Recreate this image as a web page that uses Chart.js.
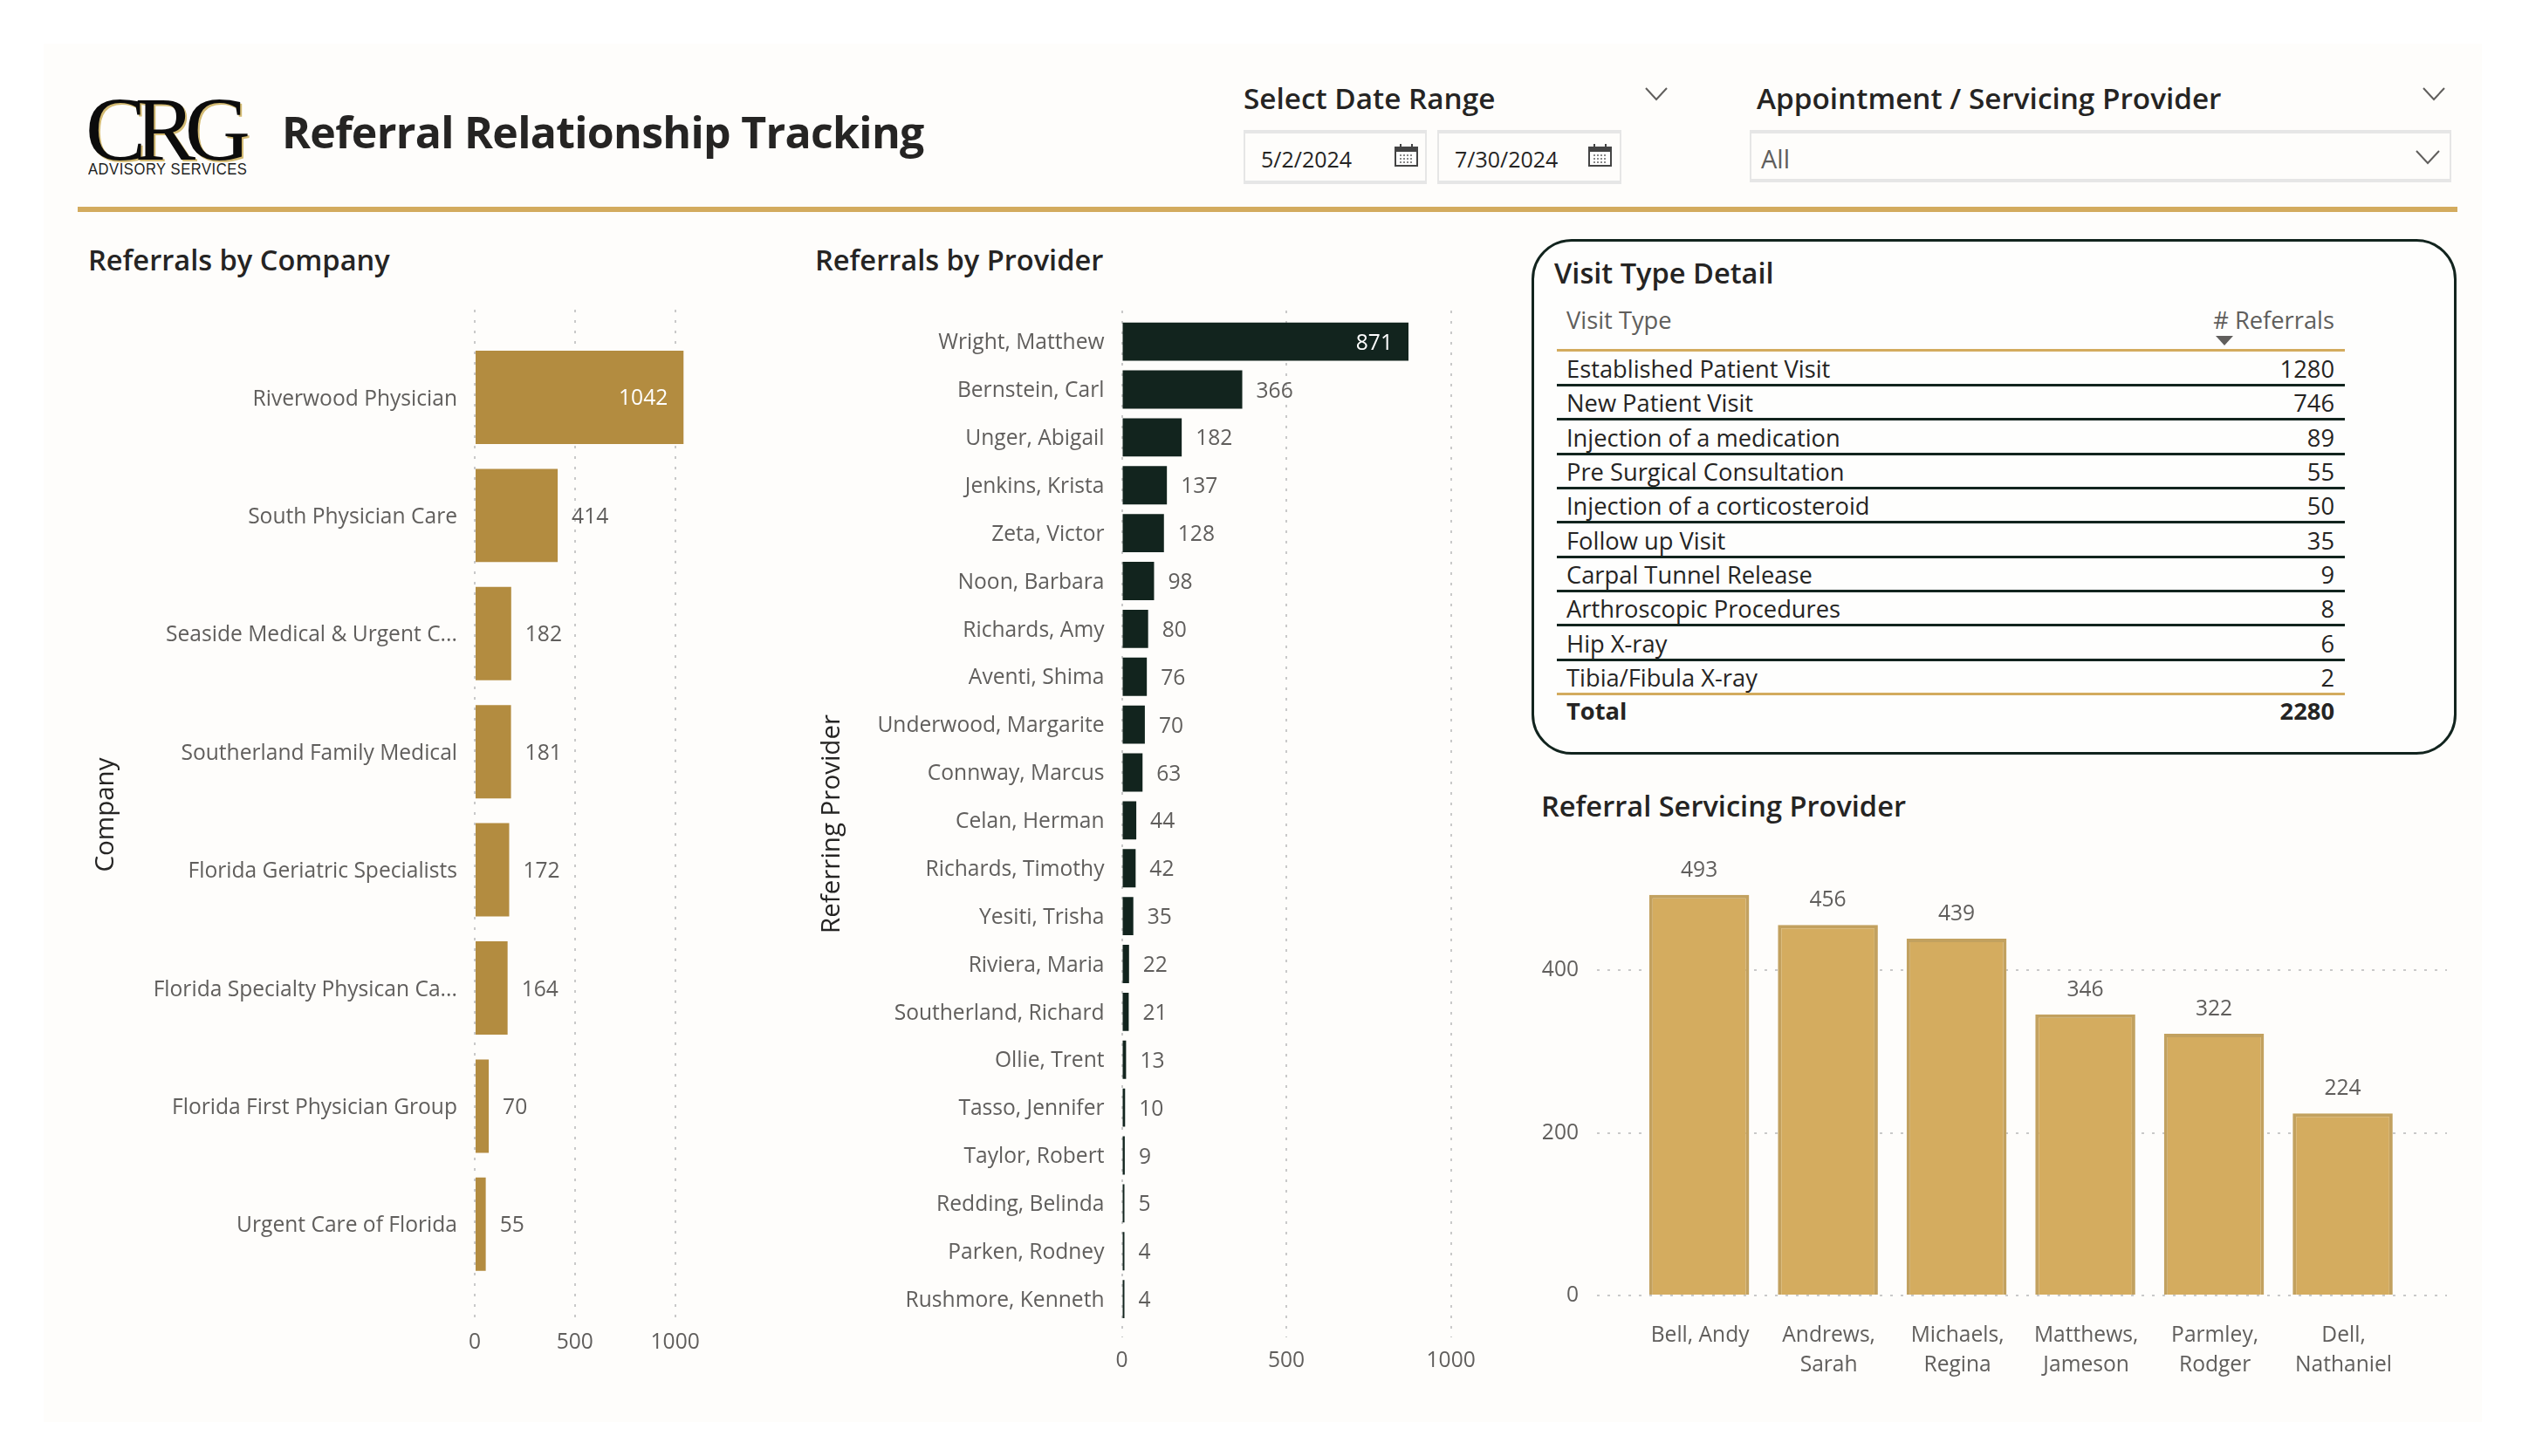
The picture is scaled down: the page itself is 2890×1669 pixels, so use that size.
<!DOCTYPE html>
<html>
<head>
<meta charset="utf-8">
<script src="https://cdn.jsdelivr.net/npm/chart.js@4/dist/chart.umd.min.js"></script>
<style>
  html, body { margin: 0; padding: 0; background: #fff; }
  body { width: 2890px; height: 1669px; position: relative; overflow: hidden; font-family: "Open Sans", sans-serif; color: #252423; }
  .abs { position: absolute; white-space: nowrap; line-height: 1; }
  canvas { position: absolute; }
  #panel { position: absolute; left: 50px; top: 50px; width: 2794px; height: 1580px; background: #fefdfb; }
  .section { font-size: 32.6px; font-weight: 600; }
  .box { position: absolute; box-sizing: border-box; border: 2px solid #e6e6e6; border-bottom-width: 4px; border-top-width: 4px; }
  #visitBox { position: absolute; left: 1755px; top: 274px; width: 1060px; height: 591px; box-sizing: border-box; border: 3px solid #12241e; border-radius: 46px; background: #fefefd; }
  svg { position: absolute; overflow: visible; }
</style>
</head>
<body>
<div id="panel"></div>

<!-- header -->
<div class="abs" style="left:98px;top:96px;font-family:'Liberation Serif';font-size:104px;letter-spacing:-12.5px;color:#0c0c0c;text-shadow:2px 2px 0 #d3ba72;">CRG</div>
<div class="abs" style="left:101px;top:185px;font-family:'Liberation Sans';font-size:18px;letter-spacing:0.6px;color:#1d1d1d;transform:scaleX(0.92);transform-origin:left;">ADVISORY SERVICES</div>
<div class="abs" style="left:323px;top:126px;font-size:50px;font-weight:700;letter-spacing:-0.7px;">Referral Relationship Tracking</div>
<div style="position:absolute;left:89px;top:237px;width:2727px;height:6px;background:#d3ab5e;"></div>

<div class="abs" style="left:1425px;top:96px;font-size:33.3px;font-weight:600;">Select Date Range</div>
<div class="abs" style="left:2013px;top:96px;font-size:33.3px;font-weight:600;">Appointment / Servicing Provider</div>
<svg style="left:1885px;top:100px" width="26" height="16"><path d="M1 1 L13 14 L25 1" fill="none" stroke="#605e5c" stroke-width="2"/></svg>
<svg style="left:2776px;top:100px" width="26" height="16"><path d="M1 1 L13 14 L25 1" fill="none" stroke="#605e5c" stroke-width="2"/></svg>

<div class="box" style="left:1425px;top:149px;width:210px;height:62px;"></div>
<div class="box" style="left:1647px;top:149px;width:211px;height:62px;"></div>
<div class="box" style="left:2005px;top:149px;width:804px;height:60px;"></div>
<div class="abs" id="dateFrom" style="left:1445px;top:170px;font-size:25px;"></div>
<div class="abs" id="dateTo" style="left:1667px;top:170px;font-size:25px;"></div>
<div class="abs" style="left:2018px;top:167px;font-size:29px;color:#605e5c;">All</div>
<svg style="left:1598px;top:165px" width="27" height="26"><rect x="1" y="4" width="25" height="21" fill="#fff" stroke="#444" stroke-width="2"/><rect x="1" y="4" width="25" height="5" fill="#444"/><path d="M7 0V5M20 0V5" stroke="#444" stroke-width="2"/><path d="M6 13H21M6 17H21M6 21H21" stroke="#888" stroke-width="2" stroke-dasharray="2 2"/></svg>
<svg style="left:1820px;top:165px" width="27" height="26"><rect x="1" y="4" width="25" height="21" fill="#fff" stroke="#444" stroke-width="2"/><rect x="1" y="4" width="25" height="5" fill="#444"/><path d="M7 0V5M20 0V5" stroke="#444" stroke-width="2"/><path d="M6 13H21M6 17H21M6 21H21" stroke="#888" stroke-width="2" stroke-dasharray="2 2"/></svg>
<svg style="left:2768px;top:172px" width="28" height="16"><path d="M1 1 L14 15 L27 1" fill="none" stroke="#605e5c" stroke-width="2"/></svg>

<!-- section titles -->
<div class="abs section" style="left:101px;top:282px;">Referrals by Company</div>
<div class="abs section" style="left:934px;top:282px;">Referrals by Provider</div>
<div class="abs section" style="left:1766px;top:908px;">Referral Servicing Provider</div>

<!-- visit type table -->
<div id="visitBox"></div>
<div class="abs section" style="left:1781px;top:297px;">Visit Type Detail</div>
<div id="visitTable"></div>

<!-- charts -->
<canvas id="companyChart" width="760" height="1218" style="left:104px;top:355px"></canvas>
<canvas id="providerChart" width="800" height="1237" style="left:936px;top:356px"></canvas>
<canvas id="servicingChart" width="1080" height="631" style="left:1760px;top:954px"></canvas>

<script>
// chart data
const dateRange = ['5/2/2024', '7/30/2024'];

const companies = ['Riverwood Physician', 'South Physician Care', 'Seaside Medical & Urgent C...', 'Southerland Family Medical',
  'Florida Geriatric Specialists', 'Florida Specialty Physican Ca...', 'Florida First Physician Group', 'Urgent Care of Florida'];
const companyReferrals = [1042, 414, 182, 181, 172, 164, 70, 55];

const providers = ['Wright, Matthew', 'Bernstein, Carl', 'Unger, Abigail', 'Jenkins, Krista', 'Zeta, Victor', 'Noon, Barbara',
  'Richards, Amy', 'Aventi, Shima', 'Underwood, Margarite', 'Connway, Marcus', 'Celan, Herman', 'Richards, Timothy',
  'Yesiti, Trisha', 'Riviera, Maria', 'Southerland, Richard', 'Ollie, Trent', 'Tasso, Jennifer', 'Taylor, Robert',
  'Redding, Belinda', 'Parken, Rodney', 'Rushmore, Kenneth'];
const providerReferrals = [871, 366, 182, 137, 128, 98, 80, 76, 70, 63, 44, 42, 35, 22, 21, 13, 10, 9, 5, 4, 4];
const referralTicks = [0, 500, 1000];

const servicingProviders = [['Bell, Andy'], ['Andrews,', 'Sarah'], ['Michaels,', 'Regina'], ['Matthews,', 'Jameson'], ['Parmley,', 'Rodger'], ['Dell,', 'Nathaniel']];
const servicingReferrals = [493, 456, 439, 346, 322, 224];
const servicingTicks = [0, 200, 400];

const visitTypes = ['Established Patient Visit', 'New Patient Visit', 'Injection of a medication', 'Pre Surgical Consultation',
  'Injection of a corticosteroid', 'Follow up Visit', 'Carpal Tunnel Release', 'Arthroscopic Procedures', 'Hip X-ray', 'Tibia/Fibula X-ray'];
const visitCounts = [1280, 746, 89, 55, 50, 35, 9, 8, 6, 2];
const visitTotal = 2280;

const FONT = '"Open Sans", sans-serif';
const TICK_COLOR = '#605e5c';
const GRID_COLOR = '#c9c9c9';
const TICK_SIZE = 24.6;
const TABLE_SIZE = 27.3;

document.getElementById('dateFrom').textContent = dateRange[0];
document.getElementById('dateTo').textContent = dateRange[1];

function addText(parent, text, left, centerY, size, extra) {
  const el = document.createElement('div');
  el.className = 'abs';
  el.textContent = text;
  el.style.cssText = `${left};top:${centerY - size * 0.68}px;font-size:${size}px;${extra || ''}`;
  parent.appendChild(el);
}

function addLine(parent, y, color) {
  const el = document.createElement('div');
  el.style.cssText = `position:absolute;left:1784px;width:903px;top:${y}px;height:3px;background:${color};`;
  parent.appendChild(el);
}

function renderVisitTable() {
  const table = document.getElementById('visitTable');
  const right = 'right:' + (2890 - 2675) + 'px';
  addText(table, 'Visit Type', 'left:1795px', 372, TABLE_SIZE, 'color:#605e5c;');
  addText(table, '# Referrals', right, 372, TABLE_SIZE, 'color:#605e5c;');
  addLine(table, 400, '#d3ab5e');
  visitTypes.forEach((name, i) => {
    const lineY = 440 + i * 39.35;
    addText(table, name, 'left:1795px', lineY - 12.5, TABLE_SIZE);
    addText(table, visitCounts[i], right, lineY - 12.5, TABLE_SIZE);
    addLine(table, lineY, i === visitTypes.length - 1 ? '#d3ab5e' : '#12241e');
  });
  addText(table, 'Total', 'left:1795px', 820, TABLE_SIZE, 'font-weight:700;');
  addText(table, visitTotal, right, 820, TABLE_SIZE, 'font-weight:700;');
  const arrow = document.createElementNS('http://www.w3.org/2000/svg', 'svg');
  arrow.setAttribute('width', '20');
  arrow.setAttribute('height', '12');
  arrow.style.cssText = 'left:2539px;top:385px';
  arrow.innerHTML = '<path d="M0 0H20L10 11Z" fill="#605e5c"/>';
  table.appendChild(arrow);
}

// value labels, placed from the bar elements
const valueLabels = {
  id: 'valueLabels',
  afterDatasetsDraw(chart) {
    const ctx = chart.ctx;
    const horizontal = chart.options.indexAxis === 'y';
    const values = chart.data.datasets[0].data;
    ctx.save();
    ctx.font = `${TICK_SIZE}px ${FONT}`;
    ctx.textBaseline = 'middle';
    chart.getDatasetMeta(0).data.forEach((bar, i) => {
      const value = horizontal ? values[i].x : values[i].y;
      if (horizontal) {
        const inside = value > 800;
        ctx.fillStyle = inside ? '#ffffff' : TICK_COLOR;
        ctx.textAlign = inside ? 'right' : 'left';
        ctx.fillText(value, inside ? bar.x - 18 : bar.x + 16, bar.y + 2);
      } else {
        ctx.fillStyle = TICK_COLOR;
        ctx.textAlign = 'center';
        ctx.fillText(value, bar.x, bar.y - 28);
      }
    });
    ctx.restore();
  }
};

// fixes axis size so the plot lands at the same place as the reference
function fixAxis(size, horizontal) {
  return axis => {
    if (horizontal) axis.height = size; else axis.width = size;
    axis.paddingLeft = axis.paddingRight = axis.paddingTop = axis.paddingBottom = 0;
  };
}

// nudge moves the label a hair off the row centre, Open Sans sits higher than the original font
function indexTicks(labels, nudge) {
  return axis => { axis.ticks = labels.map((_, i) => ({ value: i + (nudge || 0) })); };
}

function valueTicks(values) {
  return axis => { axis.ticks = values.map(v => ({ value: v })); };
}

function dottedGrid() {
  return { color: GRID_COLOR, lineWidth: 2, drawTicks: false };
}

function renderHorizontal(id, labels, values, color, opts) {
  new Chart(document.getElementById(id), {
    type: 'bar',
    data: {
      datasets: [{
        data: values.map((v, i) => ({ x: v, y: i })),
        backgroundColor: color,
        borderWidth: 0,
        minBarLength: 3,
        barPercentage: 1,
        categoryPercentage: opts.barShare
      }]
    },
    plugins: [valueLabels],
    options: {
      indexAxis: 'y',
      responsive: false,
      animation: false,
      devicePixelRatio: 1,
      layout: { padding: { right: opts.rightPad } },
      plugins: { legend: { display: false }, tooltip: { enabled: false } },
      scales: {
        x: {
          type: 'linear',
          min: 0,
          max: opts.xMax,
          grid: dottedGrid(),
          border: { display: false, dash: [3, 9] },
          ticks: { padding: opts.xPad, maxRotation: 0, color: TICK_COLOR, font: { family: FONT, size: TICK_SIZE }, callback: v => String(v) },
          afterBuildTicks: valueTicks(referralTicks),
          afterFit: fixAxis(60, true)
        },
        y: {
          type: 'linear',
          reverse: true,
          offset: false,
          min: opts.yMin,
          max: opts.yMax,
          grid: { display: false, offset: false },
          border: { display: false },
          title: { display: true, text: opts.title, color: '#252423', padding: { top: 0, bottom: 0 }, font: { family: FONT, size: 29.5, weight: '500' } },
          ticks: {
            autoSkip: false,
            padding: opts.labelPad,
            color: TICK_COLOR,
            font: { family: FONT, size: TICK_SIZE },
            callback: (v, i) => labels[i]
          },
          afterBuildTicks: indexTicks(labels, opts.labelNudge),
          afterFit: fixAxis(opts.axisWidth, false)
        }
      }
    }
  });
}

function renderServicing() {
  new Chart(document.getElementById('servicingChart'), {
    type: 'bar',
    data: {
      datasets: [{
        data: servicingReferrals.map((v, i) => ({ x: i, y: v })),
        backgroundColor: '#d4ac5f',
        borderColor: '#c2a15f',
        borderWidth: 4,
        barPercentage: 1,
        categoryPercentage: 0.777
      }]
    },
    plugins: [valueLabels],
    options: {
      responsive: false,
      animation: false,
      devicePixelRatio: 1,
      layout: { padding: { right: 36 } },
      plugins: { legend: { display: false }, tooltip: { enabled: false } },
      scales: {
        x: {
          type: 'linear',
          offset: false,
          min: -0.794,
          max: 5.81,
          grid: { display: false, offset: false },
          border: { display: false },
          ticks: {
            autoSkip: false,
            maxRotation: 0,
            padding: 21,
            color: TICK_COLOR,
            font: { family: FONT, size: TICK_SIZE, lineHeight: 1.38 },
            callback: (v, i) => servicingProviders[i]
          },
          afterBuildTicks: indexTicks(servicingProviders, 0.007),
          afterFit: fixAxis(100, true)
        },
        y: {
          min: 0,
          max: 570,
          grid: dottedGrid(),
          border: { display: false, dash: [3, 9] },
          ticks: { padding: 21, color: TICK_COLOR, font: { family: FONT, size: TICK_SIZE }, callback: v => String(v) },
          afterBuildTicks: valueTicks(servicingTicks),
          afterFit: fixAxis(70, false)
        }
      }
    }
  });
}

renderVisitTable();
renderHorizontal('companyChart', companies, companyReferrals, '#b38c40', {
  title: 'Company', barShare: 0.79, xMax: 1100, yMin: -0.742, yMax: 7.81, axisWidth: 440, rightPad: 67.4, labelPad: 12, xPad: 11, labelNudge: 0.015
});
renderHorizontal('providerChart', providers, providerReferrals, '#12241e', {
  title: 'Referring Provider', barShare: 0.8, xMax: 1050, yMin: -0.65, yMax: 20.8, axisWidth: 349.5, rightPad: 54.5, labelPad: 12, xPad: 12, labelNudge: 0.03
});
renderServicing();
</script>
</body>
</html>
